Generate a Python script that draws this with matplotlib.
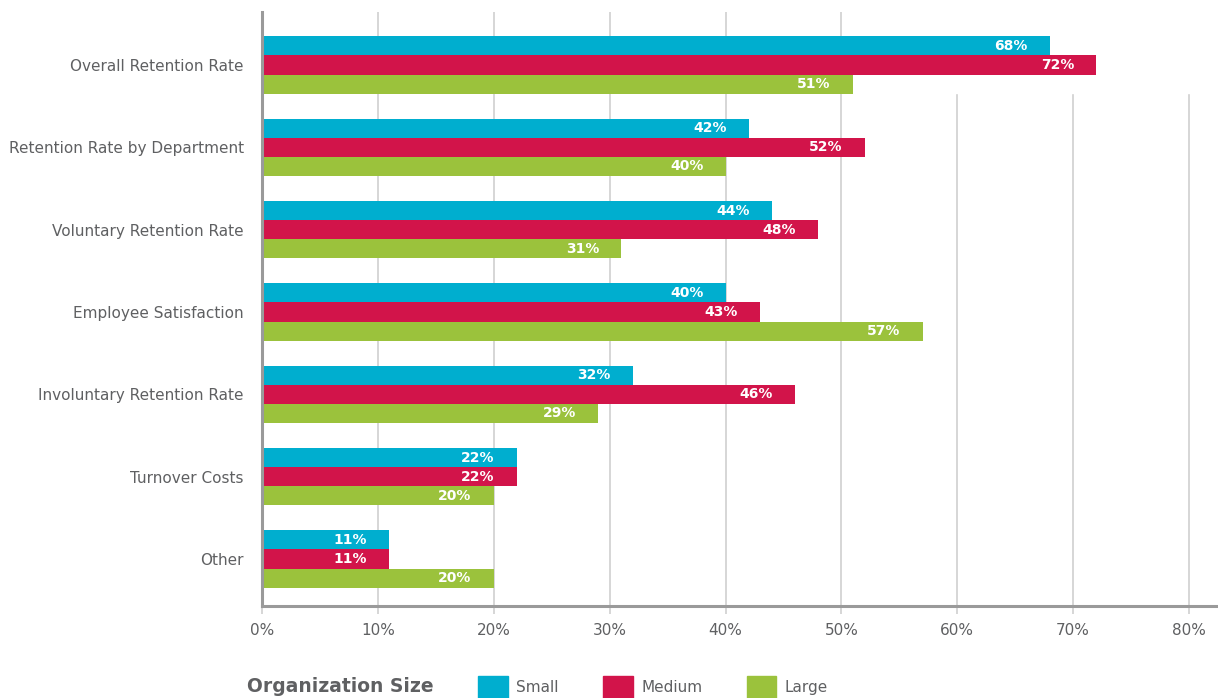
import numpy as np
import matplotlib.pyplot as plt
import matplotlib.patches as mpatches

categories = ['Overall Retention Rate', 'Retention Rate by Department', 'Voluntary Retention Rate',
              'Employee Satisfaction', 'Involuntary Retention Rate', 'Turnover Costs', 'Other']
small = [68, 42, 44, 40, 32, 22, 11]
medium = [72, 52, 48, 43, 46, 22, 11]
large = [51, 40, 31, 57, 29, 20, 20]
series = ['Small', 'Medium', 'Large']
xticks = [0, 10, 20, 30, 40, 50, 60, 70, 80]

colorz = ['#00AECF', '#D2144A', '#9BC23C']
grey = '#5f6062'
gridc = '#d0d0d0'

fig = plt.figure(figsize=(12.18, 6.98), dpi=100)
ax = fig.add_axes([262/1218, 92/698, 1 - 262/1218, 594/698])

y = np.arange(len(categories))
h = 0.232
for i, vals in enumerate([small, medium, large]):
    pos = y + (i - 1) * h
    ax.barh(pos, vals, height=h, color=colorz[i], zorder=3)
    for p, v in zip(pos, vals):
        ax.annotate('%d%%' % v, xy=(v, p), xytext=(-16, 0), textcoords='offset points',
                    ha='right', va='center', color='white', fontsize=10, fontweight='bold', zorder=4)

# gridlines (upper-right corner left blank as in the original)
for t in xticks[1:]:
    top = 0.86 if t >= 60 else 1.0
    ax.axvline(t, ymin=0, ymax=top, color=gridc, linewidth=1.2, zorder=1)

ax.set_xlim(0, 82.5)
ax.set_ylim(6.571, -0.644)
ax.set_yticks(y)
ax.set_yticklabels(categories, fontsize=11, color=grey)
ax.set_xticks(xticks)
ax.set_xticklabels(['%d%%' % t for t in xticks], fontsize=11, color=grey)
ax.tick_params(axis='y', length=0, pad=13)
ax.tick_params(axis='x', length=6, width=1.2, color=gridc, pad=6)

for s in ['top', 'right']:
    ax.spines[s].set_visible(False)
for s in ['left', 'bottom']:
    ax.spines[s].set_color('#9a9a9a')
    ax.spines[s].set_linewidth(2.2)
    ax.spines[s].set_zorder(5)

fig.text(247/1218, 12/698, 'Organization Size', fontsize=13.5, fontweight='bold',
         color=grey, ha='left', va='center')
handles = [mpatches.Patch(color=c, label=l) for c, l in zip(colorz, series)]
leg = fig.legend(handles=handles, loc='center left', bbox_to_anchor=(478/1218, 11/698),
                 ncol=3, frameon=False, fontsize=11, handlelength=1.95, handleheight=1.75,
                 handletextpad=0.55, columnspacing=2.9, borderpad=0, borderaxespad=0)
for t in leg.get_texts():
    t.set_color(grey)

plt.savefig('out.png', dpi=100)
